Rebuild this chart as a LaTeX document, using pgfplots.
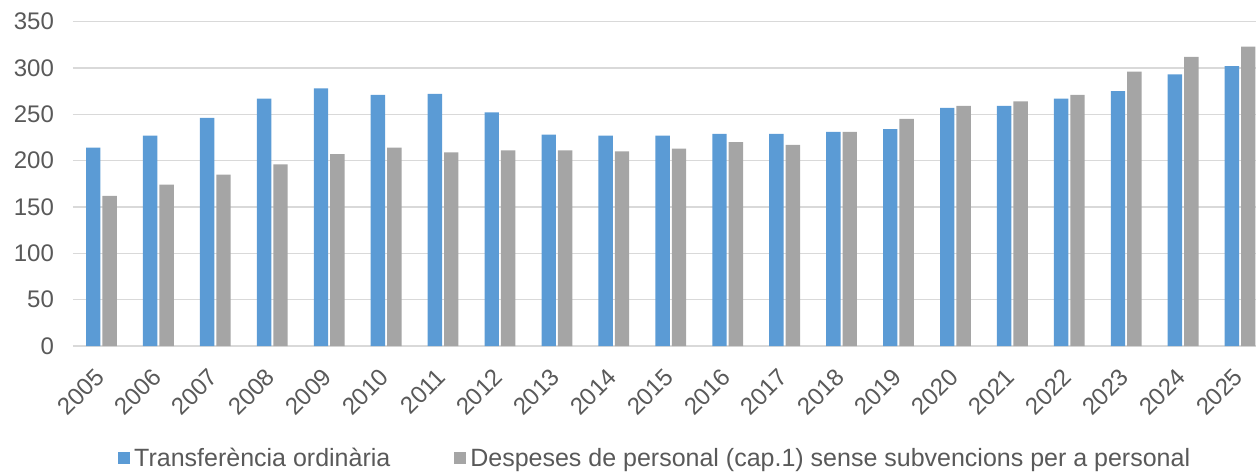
\documentclass[border=0pt]{standalone}
\usepackage{fontspec}
\setmainfont{Liberation Sans}
\usepackage{pgfplots}
\pgfplotsset{compat=1.18}
\definecolor{cblue}{HTML}{5B9BD5}
\definecolor{cgrey}{HTML}{A5A5A5}
\definecolor{cgrid}{HTML}{D9D9D9}
\definecolor{ctext}{HTML}{595959}
\begin{document}
\begin{tikzpicture}
\begin{axis}[
    ybar=1pt,
    bar width=7.2pt,
    scale only axis,
    width=591.5pt,
    height=162.2pt,
    at={(0,0)}, anchor=south west,
    xmin=-0.5, xmax=20.28,
    ymin=0, ymax=350,
    ytick={0,50,...,350},
    xtick={0,...,20},
    xticklabels={2005,2006,2007,2008,2009,2010,2011,2012,2013,2014,2015,2016,2017,2018,2019,2020,2021,2022,2023,2024,2025},
    /pgf/number format/assume math mode=true,
    ymajorgrids,
    grid style={cgrid, line width=0.75pt},
    axis line style={draw=none},
    major tick length=0pt,
    tick label style={font=\fontsize{12}{14}\selectfont, text=ctext},
    yticklabel style={xshift=-6pt},
    xticklabel style={rotate=45, anchor=north east, inner sep=1pt, xshift=-9pt, yshift=-3.5pt},
    legend columns=2,
    legend style={at={(0.493,-0.348)}, anchor=center, draw=none,
        font=\fontsize{12.5}{14}\selectfont, text=ctext,
        /tikz/every even column/.append style={column sep=30pt}},
    legend image code/.code={\fill[#1,draw=none] (0pt,-2.5pt) rectangle (6pt,3.5pt);},
]
\addplot[fill=cblue, draw=none] coordinates {
(0,214) (1,227) (2,246) (3,267) (4,278) (5,271) (6,272) (7,252) (8,228) (9,227)
(10,227) (11,229) (12,229) (13,231) (14,234) (15,257) (16,259) (17,267) (18,275) (19,293) (20,302)};
\addplot[fill=cgrey, draw=none] coordinates {
(0,162) (1,174) (2,185) (3,196) (4,207) (5,214) (6,209) (7,211) (8,211) (9,210)
(10,213) (11,220) (12,217) (13,231) (14,245) (15,259) (16,264) (17,271) (18,296) (19,312) (20,323)};
\legend{Transferència ordinària, Despeses de personal (cap.1) sense subvencions per a personal}
\end{axis}
\pgfresetboundingbox
\path[use as bounding box] (-36.5pt,-63pt) rectangle (591.5pt,173pt);
\end{tikzpicture}
\end{document}
